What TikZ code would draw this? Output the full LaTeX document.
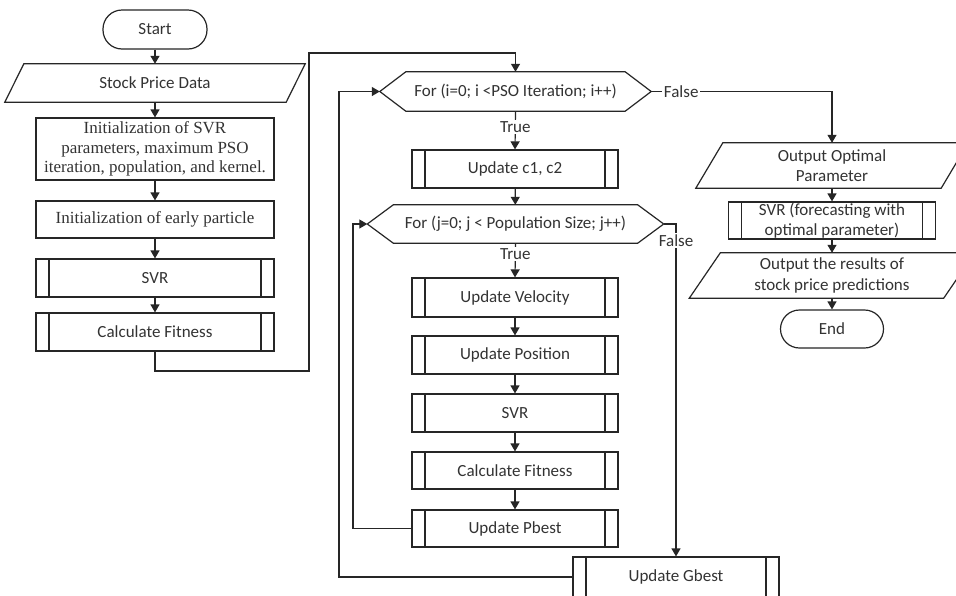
\documentclass[tikz,border=0pt]{standalone}
\usepackage{fontspec}
\setmainfont{Carlito}
\newfontfamily\serifface{Liberation Serif}
\usetikzlibrary{arrows.meta,calc}
\definecolor{ln}{HTML}{262626}
\definecolor{txt}{HTML}{333333}

% parallelogram (input/output) drawn around a plain node
\newcommand\ioshape[2]{\draw[line] ([xshift=#2]#1.north west) -- (#1.north east) -- ([xshift=-#2]#1.south east) -- (#1.south west) -- cycle;}
% hexagon (loop header) drawn around a plain node
\newcommand\hexshape[2]{\draw[line] (#1.west) -- ([xshift=#2]#1.north west) -- ([xshift=-#2]#1.north east) -- (#1.east) -- ([xshift=-#2]#1.south east) -- ([xshift=#2]#1.south west) -- cycle;}

\begin{document}
\begin{tikzpicture}[x=1pt,y=-1pt,
  every node/.style={font=\fontsize{17}{20.5}\selectfont, text=txt},
  line/.style={draw=ln, line width=1.2pt},
  arrow/.style={line, -{Triangle[length=8pt,width=9pt]}},
  plain/.style={rectangle, inner sep=0pt, align=center},
  proc/.style={plain, line},
  sub/.style={proc, path picture={
      \draw[ln, line width=1.2pt]
        ([xshift=13pt]path picture bounding box.north west) -- ([xshift=13pt]path picture bounding box.south west)
        ([xshift=-13pt]path picture bounding box.north east) -- ([xshift=-13pt]path picture bounding box.south east);}},
  term/.style={plain, line, rounded corners=19pt},
  serifbox/.style={proc, font=\serifface\fontsize{17}{19.5}\selectfont},
  lbl/.style={fill=white, inner sep=1.5pt}]

\useasboundingbox (0,0) rectangle (956,595);
\fill[white] (0,0) rectangle (956,595);
\clip (0,0) rectangle (956,595);

% ---- initialisation column ----
\node[term, minimum width=104pt, minimum height=39pt] (start) at (155,29.5) {Start};
\node[plain, minimum width=300pt, minimum height=38pt] (spd) at (155,83) {Stock Price Data};
\ioshape{spd}{19pt}
\node[serifbox, minimum width=238pt, minimum height=62pt] (init1) at (155,149)
  {Initialization of SVR\\parameters, maximum PSO\\iteration, population, and kernel.};
\node[serifbox, minimum width=238pt, minimum height=37pt] (init2) at (155,219.5) {Initialization of early particle};
\node[sub, minimum width=238pt, minimum height=38pt] (svr1) at (155,278) {SVR};
\node[sub, minimum width=238pt, minimum height=38pt] (cf1) at (155,332) {Calculate Fitness};

% ---- PSO loop column ----
\node[plain, minimum width=271pt, minimum height=39pt] (h1) at (515.5,91.5) {For (i=0; i <PSO Iteration; i++)};
\hexshape{h1}{26pt}
\node[sub, minimum width=206pt, minimum height=38pt] (uc) at (515,169) {Update c1, c2};
\node[plain, minimum width=296pt, minimum height=38pt] (h2) at (515.5,224) {For (j=0; j < Population Size; j++)};
\hexshape{h2}{26pt}
\node[sub, minimum width=206pt, minimum height=39pt] (uv) at (515,297.5) {Update Velocity};
\node[sub, minimum width=206pt, minimum height=38pt] (up) at (515,355) {Update Position};
\node[sub, minimum width=206pt, minimum height=38pt] (svr2) at (515,413) {SVR};
\node[sub, minimum width=206pt, minimum height=37pt] (cf2) at (515,470.5) {Calculate Fitness};
\node[sub, minimum width=206pt, minimum height=37pt] (pb) at (515,528.5) {Update Pbest};
\node[sub, minimum width=206pt, minimum height=40pt] (gb) at (676,577) {Update Gbest};

% ---- output column ----
\node[plain, minimum width=272pt, minimum height=45pt] (opt) at (832,165.5) {Output Optimal\\Parameter};
\ioshape{opt}{27pt}
\node[sub, minimum width=207pt, minimum height=37pt] (svr3) at (832,220.5) {SVR (forecasting with\\optimal parameter)};
\node[plain, minimum width=285pt, minimum height=45pt] (res) at (832,275.5) {Output the results of\\stock price predictions};
\ioshape{res}{31pt}
\node[term, minimum width=103pt, minimum height=38pt] (endn) at (832,329) {End};

% ---- connectors ----
\draw[arrow] (start) -- (spd);
\draw[arrow] (spd) -- (init1);
\draw[arrow] (init1) -- (init2);
\draw[arrow] (init2) -- (svr1);
\draw[arrow] (svr1) -- (cf1);

\coordinate (r1) at (309,371);
\coordinate (r2) at (309,53);
\draw[arrow] (cf1.south) |- (r1) -- (r2) -| (h1.north);

\draw[arrow] (h1.south) -- node[lbl, pos=0.41] {True} (uc.north);
\draw[arrow] (uc) -- (h2);
\draw[arrow] (h2.south) -- node[lbl, pos=0.31] {True} (uv.north);
\draw[arrow] (uv) -- (up);
\draw[arrow] (up) -- (svr2);
\draw[arrow] (svr2) -- (cf2);
\draw[arrow] (cf2) -- (pb);

\coordinate (pl) at (353,0);
\draw[arrow] (pb.west) -- (pb.west -| pl) |- (h2.west);
\coordinate (gl) at (339,0);
\draw[arrow] (gb.west) -- (gb.west -| gl) |- (h1.west);

\draw[arrow] (h2.east) -| node[lbl, pos=0.525] {False} (gb.north);
\draw[arrow] (h1.east) -| node[lbl, pos=0.083] {False} (opt.north);

\draw[arrow] (opt) -- (svr3);
\draw[arrow] (svr3) -- (res);
\draw[arrow] (res) -- (endn);
\end{tikzpicture}
\end{document}
